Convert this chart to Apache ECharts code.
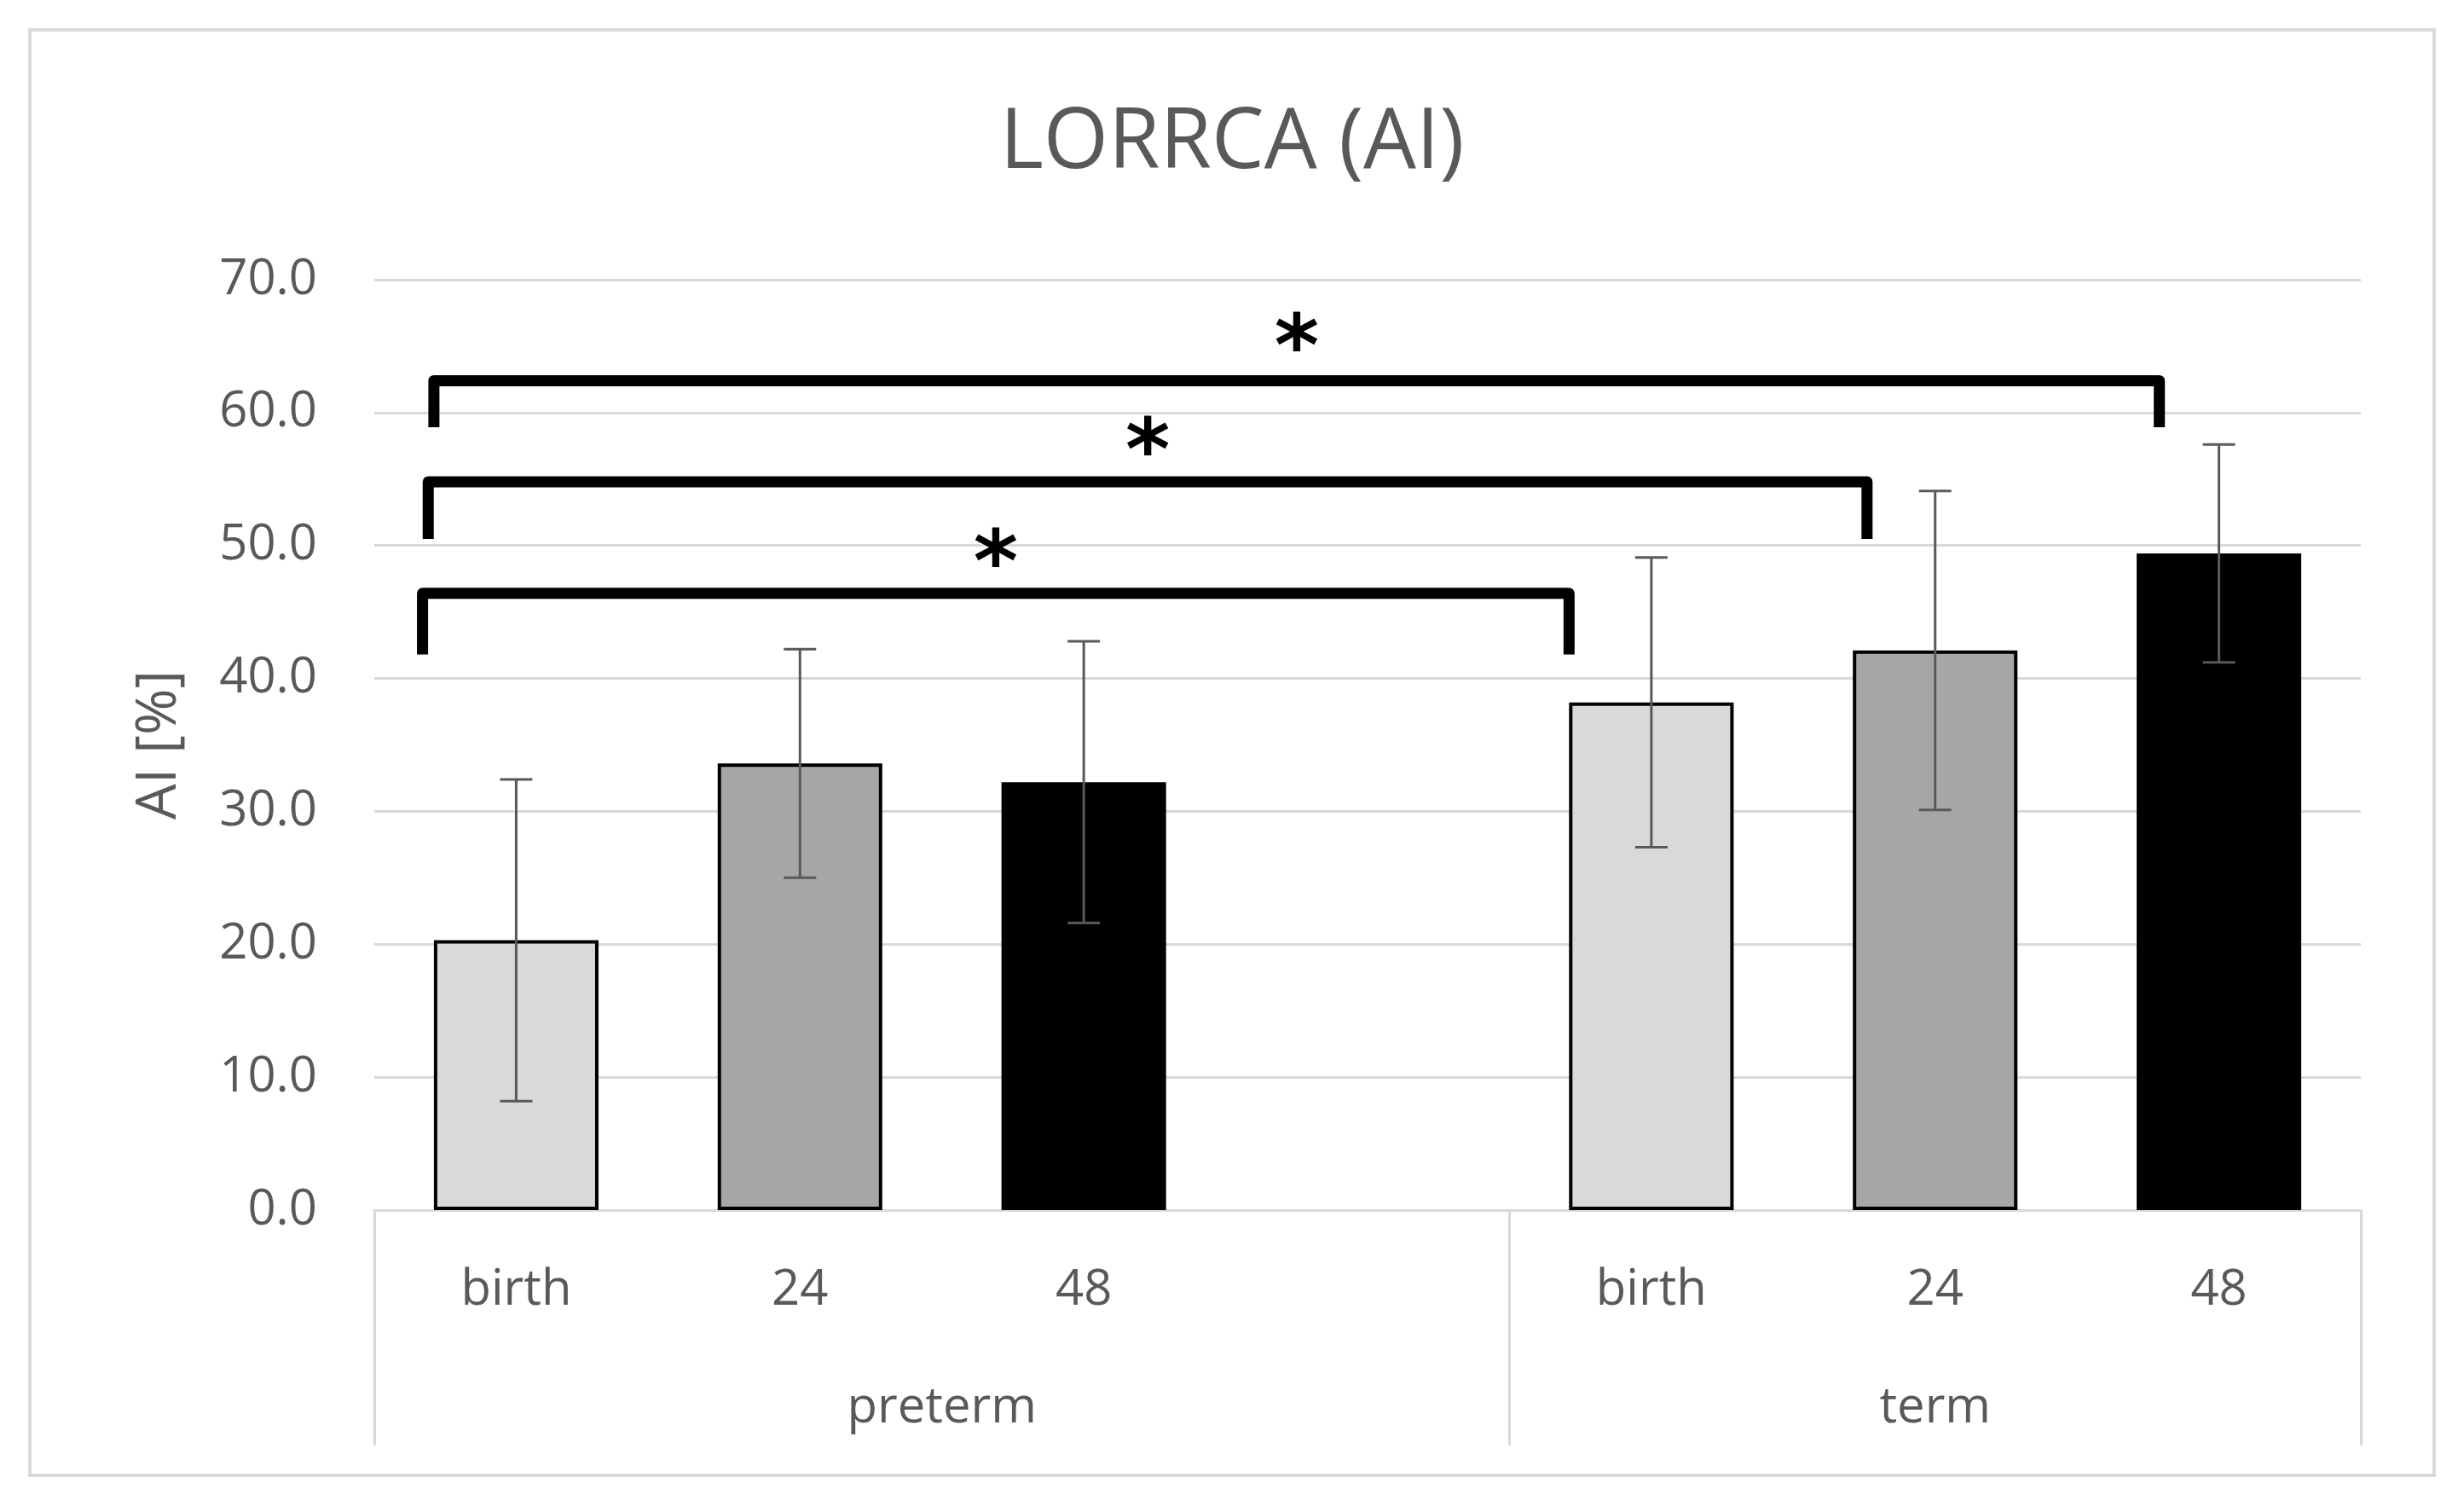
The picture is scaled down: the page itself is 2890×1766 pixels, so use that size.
<!DOCTYPE html>
<html>
<head>
<meta charset="utf-8">
<script src="https://cdn.jsdelivr.net/npm/echarts/dist/echarts.min.js"></script>
<style>
  html, body { margin: 0; padding: 0; background: #ffffff; }
  #chart { width: 2890px; height: 1766px; }
</style>
</head>
<body>
<div id="chart"></div>
<script>
// ---- data ----
const title = 'LORRCA (AI)';
const yAxisName = 'AI [%]';
const categories = ['birth', '24', '48', '', 'birth', '24', '48'];
const groupNames = ['preterm', 'term'];
const groupSizes = [4, 3];
const means = [20.3, 33.6, 32.2, null, 38.2, 42.1, 49.4];
const sds   = [12.1, 8.6, 10.6, null, 10.9, 12.0, 8.2];
const yMin = 0, yMax = 70, yStep = 10;

// significance brackets (category units on x, data units on y)
const bracketLeft  = [-0.33, -0.31, -0.29];
const bracketRight = [3.71, 4.76, 5.79];
const bracketTop   = [46.4, 54.8, 62.4];
const bracketFoot  = [41.8, 50.5, 58.9];
const bracketMarks = ['*', '*', '*'];
const markY        = [49.8, 58.2, 66.0];

// ---- styles ----
const fills = ['#d9d9d9', '#a6a6a6', '#000000', '#ffffff', '#d9d9d9', '#a6a6a6', '#000000'];
const textColor = '#595959';
const gridColor = '#d9d9d9';
const font = 'Open Sans';
const markFontSize = 100;

// group axis: half-category steps from -0.5 to n-0.5
const groupAxisData = [];
const groupBoundaries = [0];
(function () {
  const n = categories.length * 2 + 1;
  for (let i = 0; i < n; i++) groupAxisData.push('');
  let start = 0;
  groupNames.forEach((g, k) => {
    const mid = start + groupSizes[k];       // center in half-steps
    groupAxisData[mid] = g;
    start += groupSizes[k] * 2;
    groupBoundaries.push(start);
  });
})();

const chart = echarts.init(document.getElementById('chart'), null, { renderer: 'canvas' });

const barData = means.map((v, i) => v == null ? '-' : {
  value: v,
  itemStyle: { color: fills[i], borderColor: '#000000', borderWidth: 4 }
});
const errData = [];
means.forEach((m, i) => { if (m != null) errData.push([i, m, sds[i]]); });

const bracketSeries = bracketLeft.map((l, k) => ({
  type: 'line',
  xAxisIndex: 2,
  yAxisIndex: 0,
  silent: true,
  symbol: 'none',
  clip: false,
  z: 5,
  lineStyle: { color: '#000000', width: 13, join: 'round', cap: 'butt' },
  data: [
    [l, bracketFoot[k]],
    [l, bracketTop[k]],
    [bracketRight[k], bracketTop[k]],
    [bracketRight[k], bracketFoot[k]]
  ]
}));

const markData = bracketLeft.map((l, k) => [(l + bracketRight[k]) / 2, markY[k]]);

const option = {
  animation: false,
  backgroundColor: '#ffffff',
  textStyle: { fontFamily: font },
  title: {
    text: title,
    left: 'center',
    top: 115,
    textStyle: { fontFamily: font, fontSize: 98, fontWeight: 'normal', color: textColor }
  },
  graphic: [{
    type: 'rect',
    shape: { x: 35, y: 35, width: 2820, height: 1695 },
    style: { fill: 'none', stroke: gridColor, lineWidth: 4 },
    silent: true
  }],
  grid: { left: 439, right: 121, top: 328, bottom: 347, containLabel: false },
  xAxis: [
    {
      type: 'category',
      data: categories,
      position: 'bottom',
      axisLine: { show: true, lineStyle: { color: gridColor, width: 3 } },
      axisTick: { show: false },
      axisLabel: { interval: 0, color: textColor, fontSize: 58, fontFamily: font, margin: 65 },
      splitLine: { show: false }
    },
    {
      type: 'category',
      data: groupAxisData,
      boundaryGap: false,
      position: 'bottom',
      axisLine: { show: false },
      axisTick: {
        show: true,
        length: 276,
        interval: (idx) => groupBoundaries.indexOf(idx) >= 0,
        lineStyle: { color: gridColor, width: 3 }
      },
      axisLabel: {
        interval: (idx, val) => val !== '',
        color: textColor, fontSize: 58, fontFamily: font, margin: 203
      },
      splitLine: { show: false }
    },
    {
      type: 'value',
      min: -0.5,
      max: categories.length - 0.5,
      show: false,
      splitLine: { show: false }
    }
  ],
  yAxis: {
    type: 'value',
    min: yMin,
    max: yMax,
    interval: yStep,
    name: yAxisName,
    nameLocation: 'middle',
    nameGap: 219,
    nameTextStyle: { color: textColor, fontSize: 66, fontFamily: font },
    axisLine: { show: false },
    axisTick: { show: false },
    axisLabel: { color: textColor, fontSize: 58, fontFamily: font, margin: 67, formatter: (v) => v.toFixed(1) },
    splitLine: { show: true, lineStyle: { color: gridColor, width: 3 } }
  },
  series: [
    {
      type: 'bar',
      xAxisIndex: 0,
      yAxisIndex: 0,
      barWidth: '58%',
      data: barData,
      z: 2
    },
    {
      type: 'custom',
      xAxisIndex: 0,
      yAxisIndex: 0,
      z: 4,
      silent: true,
      data: errData,
      renderItem: function (params, api) {
        const x = api.value(0), m = api.value(1), s = api.value(2);
        const top = api.coord([x, m + s]);
        const bot = api.coord([x, m - s]);
        const hw = 19;
        const st = { stroke: '#595959', lineWidth: 3 };
        return {
          type: 'group',
          children: [
            { type: 'line', shape: { x1: top[0], y1: top[1], x2: bot[0], y2: bot[1] }, style: st },
            { type: 'line', shape: { x1: top[0] - hw, y1: top[1], x2: top[0] + hw, y2: top[1] }, style: st },
            { type: 'line', shape: { x1: bot[0] - hw, y1: bot[1], x2: bot[0] + hw, y2: bot[1] }, style: st }
          ]
        };
      }
    },
    ...bracketSeries,
    {
      type: 'custom',
      xAxisIndex: 2,
      yAxisIndex: 0,
      z: 6,
      silent: true,
      clip: false,
      data: markData,
      renderItem: function (params, api) {
        const p = api.coord([api.value(0), api.value(1)]);
        return {
          type: 'text',
          x: p[0],
          y: p[1] + markFontSize * 0.24,
          style: {
            text: bracketMarks[params.dataIndex],
            fontSize: markFontSize,
            fontWeight: 'bold',
            fontFamily: 'DejaVu Sans',
            fill: '#000000',
            align: 'center',
            verticalAlign: 'middle'
          }
        };
      }
    }
  ]
};
chart.setOption(option);
</script>
</body>
</html>
